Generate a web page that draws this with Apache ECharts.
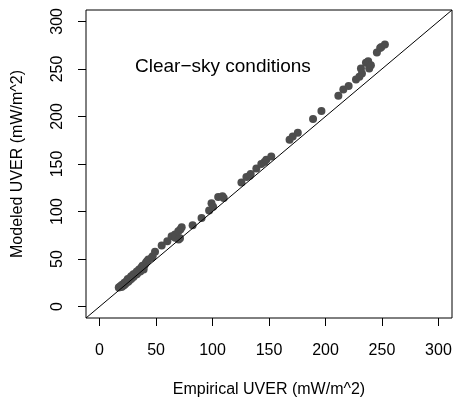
<!DOCTYPE html>
<html>
<head>
<meta charset="utf-8">
<script src="https://cdn.jsdelivr.net/npm/echarts@6/dist/echarts.min.js"></script>
<style>html,body{margin:0;padding:0;background:#fff}#c{width:453px;height:398px}</style>
</head>
<body>
<div id="c"></div>
<script>
const tickValues = [0, 50, 100, 150, 200, 250, 300];
const xTitle = 'Empirical UVER (mW/m^2)';
const yTitle = 'Modeled UVER (mW/m^2)';
const annotation = 'Clear\u2212sky conditions';
const empirical = [
  17, 18, 19, 19.5, 20, 21, 22, 22, 23, 24, 25, 25, 26, 26, 27, 28, 28, 29, 30, 30, 31, 32, 33, 33, 34, 35, 36, 36, 37, 38, 38, 39, 39, 40,
  41, 42, 43.2, 46.2, 47, 49.1, 55, 60, 63.8, 66.8, 67, 69.7, 70, 71.2, 71.5, 72.7, 82.4, 90.3, 97, 99.1, 100.5, 105, 108.8, 109.9,
  125.6, 130, 132.9, 133.8, 138.8, 143.2, 146, 147.6, 152, 168.2, 171, 175.5, 189, 196.4,
  211.4, 215.8, 220.5, 227, 230, 231.4, 232.3, 235.8, 237.8, 238.7, 240.2, 245.5, 248.4, 249.5, 252.6
];
const modeled = [
  20, 21, 22, 20.5, 23, 22, 25, 23, 24, 27, 26, 29, 28, 27, 30, 29, 32, 31, 34, 31, 33, 35, 37, 34, 36, 39, 38, 37, 41, 40, 43, 42, 39, 44,
  46, 47.8, 49.6, 51.4, 53, 57.7, 64.3, 68.8, 74, 75.8, 72.5, 79.2, 70.5, 72, 81, 83.4, 85.5, 93.3, 101, 108.8, 105, 115.3, 116, 114.3,
  130.6, 136.3, 137.6, 139.4, 145.2, 150, 152, 154.4, 157.9, 175.4, 178.8, 183, 197.4, 205.8,
  221.8, 228.5, 232, 239, 241.7, 250.5, 245.3, 256.4, 258.2, 250.5, 254, 267.3, 272, 273, 275.7
];
const identity = [[-12, -12], [312, 312]];

const points = empirical.map((x, i) => [x, modeled[i]]);
const font = 'Liberation Sans, Arial, Helvetica, sans-serif';

const chart = echarts.init(document.getElementById('c'), null, {renderer: 'canvas'});
chart.setOption({
  animation: false,
  backgroundColor: '#fff',
  grid: {left: 86, right: 1, top: 10, bottom: 80, show: true, borderColor: '#000', borderWidth: 1,
         backgroundColor: 'transparent', containLabel: false, outerBoundsMode: 'none'},
  xAxis: {
    type: 'value', min: -12, max: 312,
    axisLine: {show: false, onZero: false},
    axisTick: {show: true, length: 8, lineStyle: {color: '#000', width: 1}, customValues: tickValues},
    axisLabel: {show: true, customValues: tickValues, fontSize: 16, color: '#000', fontFamily: font, margin: 25},
    splitLine: {show: false},
    name: xTitle, nameLocation: 'middle', nameGap: 64,
    nameTextStyle: {fontSize: 16, color: '#000', fontFamily: font}
  },
  yAxis: {
    type: 'value', min: -12, max: 312,
    axisLine: {show: false, onZero: false},
    axisTick: {show: true, length: 8, lineStyle: {color: '#000', width: 1}, customValues: tickValues},
    axisLabel: {show: true, customValues: tickValues, fontSize: 16, color: '#000', fontFamily: font, margin: 20, rotate: 90},
    splitLine: {show: false},
    name: yTitle, nameLocation: 'middle', nameGap: 60,
    nameTextStyle: {fontSize: 16, color: '#000', fontFamily: font}
  },
  graphic: [{
    type: 'text', left: 135, top: 57,
    style: {text: annotation, font: '19px ' + font, fill: '#000'}
  }],
  series: [
    {type: 'scatter', data: points, symbol: 'circle', symbolSize: 8, itemStyle: {color: '#4d4d4d', opacity: 1}, z: 2},
    {type: 'line', data: identity, showSymbol: false, symbol: 'none', lineStyle: {color: '#000', width: 1}, z: 3, silent: true}
  ]
});
</script>
</body>
</html>
